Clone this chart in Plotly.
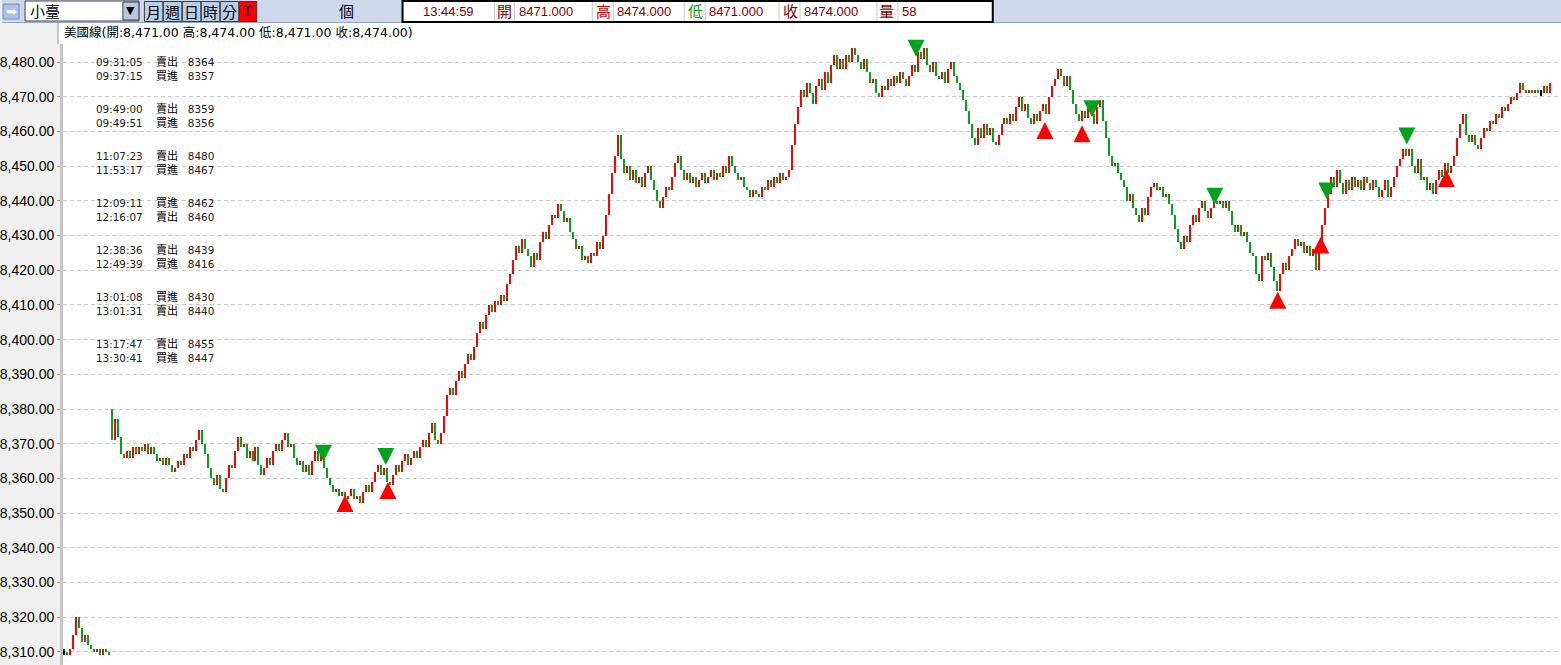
import plotly.graph_objects as go

# ---------------- data ----------------
night_open = 8310
night_close = [8310, 8309, 8311, 8315, 8320, 8317, 8313, 8315, 8312, 8311,
               8310, 8311, 8309, 8311, 8310, 8309]

day_open = 8380
day_close = [
    8371, 8377, 8372, 8367, 8366, 8368, 8366, 8369, 8367, 8369,
    8368, 8370, 8367, 8369, 8367, 8365, 8366, 8364, 8366, 8364,
    8362, 8363, 8365, 8364, 8367, 8366, 8369, 8368, 8371, 8374,
    8370, 8367, 8363, 8360, 8358, 8361, 8357, 8356, 8360, 8364,
    8363, 8368, 8372, 8369, 8370, 8366, 8368, 8365, 8369, 8364,
    8361, 8363, 8366, 8364, 8368, 8370, 8368, 8371, 8373, 8369,
    8370, 8366, 8364, 8365, 8362, 8364, 8361, 8365, 8368, 8365,
    8367, 8363, 8360, 8358, 8356, 8357, 8355, 8356, 8354, 8355,
    8357, 8354, 8355, 8353, 8356, 8358, 8356, 8359, 8362, 8364,
    8361, 8363, 8359, 8358, 8361, 8364, 8362, 8365, 8367, 8364,
    8366, 8368, 8366, 8369, 8371, 8369, 8373, 8376, 8371, 8370,
    8373, 8378, 8384, 8386, 8384, 8388, 8391, 8389, 8393, 8396,
    8394, 8398, 8402, 8405, 8403, 8407, 8410, 8408, 8411, 8410,
    8413, 8411, 8416, 8419, 8423, 8427, 8425, 8429, 8426, 8424,
    8421, 8425, 8423, 8428, 8431, 8429, 8433, 8436, 8435, 8439,
    8437, 8434, 8435, 8431, 8429, 8426, 8427, 8423, 8424, 8422,
    8425, 8424, 8428, 8426, 8430, 8436, 8442, 8448, 8453, 8459,
    8452, 8448, 8450, 8446, 8449, 8445, 8447, 8444, 8448, 8450,
    8446, 8443, 8440, 8438, 8441, 8444, 8443, 8447, 8451, 8453,
    8449, 8446, 8448, 8445, 8447, 8444, 8446, 8448, 8445, 8447,
    8449, 8446, 8448, 8447, 8450, 8448, 8453, 8450, 8448, 8446,
    8447, 8444, 8443, 8441, 8443, 8442, 8441, 8444, 8443, 8446,
    8444, 8447, 8445, 8448, 8446, 8447, 8449, 8456, 8462, 8467,
    8472, 8470, 8474, 8471, 8468, 8473, 8475, 8472, 8477, 8474,
    8479, 8482, 8478, 8481, 8478, 8482, 8480, 8484, 8482, 8480,
    8478, 8481, 8477, 8474, 8475, 8471, 8470, 8473, 8472, 8475,
    8473, 8476, 8474, 8477, 8475, 8473, 8476, 8479, 8477, 8483,
    8481, 8484, 8479, 8477, 8480, 8476, 8475, 8477, 8474, 8478,
    8480, 8476, 8474, 8472, 8469, 8466, 8462, 8458, 8456, 8461,
    8458, 8462, 8459, 8461, 8457, 8456, 8459, 8462, 8464, 8462,
    8465, 8463, 8467, 8470, 8466, 8468, 8464, 8462, 8465, 8463,
    8466, 8468, 8465, 8470, 8473, 8475, 8478, 8476, 8473, 8476,
    8472, 8468, 8465, 8463, 8466, 8464, 8468, 8465, 8462, 8467,
    8469, 8463, 8458, 8453, 8450, 8451, 8448, 8446, 8444, 8440,
    8442, 8438, 8436, 8434, 8438, 8436, 8441, 8444, 8445, 8443,
    8444, 8441, 8442, 8439, 8436, 8432, 8428, 8426, 8430, 8428,
    8433, 8436, 8434, 8438, 8440, 8437, 8435, 8438, 8440, 8439,
    8440, 8438, 8440, 8437, 8433, 8431, 8433, 8430, 8431, 8428,
    8425, 8424, 8419, 8417, 8424, 8423, 8425, 8421, 8417, 8414,
    8419, 8422, 8420, 8424, 8426, 8429, 8427, 8428, 8425, 8427,
    8424, 8426, 8420, 8427, 8433, 8438, 8442, 8447, 8444, 8449,
    8445, 8442, 8446, 8443, 8447, 8444, 8446, 8443, 8447, 8445,
    8443, 8446, 8444, 8441, 8443, 8446, 8441, 8444, 8447, 8450,
    8452, 8455, 8453, 8455, 8450, 8448, 8452, 8446, 8447, 8443,
    8445, 8442, 8446, 8449, 8447, 8451, 8448, 8450, 8453, 8458,
    8462, 8465, 8459, 8457, 8459, 8456, 8455, 8458, 8461, 8460,
    8463, 8462, 8465, 8464, 8467, 8466, 8468, 8470, 8469, 8471,
    8474, 8472, 8471, 8472, 8471, 8472, 8471, 8471, 8473, 8471, 8474,
]

# trade signals: bar position and marker price
sell_bar = [86.6, 107.4, 284.4, 343.1, 384.1, 421.5, 448.2]
sell_price = [8364.8, 8363.9, 8481.5, 8464.1, 8438.9, 8440.4, 8456.2]
buy_bar = [93.8, 108.1, 327.4, 339.8, 405.1, 419.5, 461.4]
buy_price = [8355.2, 8359.0, 8462.7, 8461.8, 8413.8, 8429.7, 8448.9]

# trade log
trade_time = ["09:31:05", "09:37:15", "09:49:00", "09:49:51", "11:07:23", "11:53:17", "12:09:11",
              "12:16:07", "12:38:36", "12:49:39", "13:01:08", "13:01:31", "13:17:47", "13:30:41"]
trade_side = ["賣出", "買進", "賣出", "買進", "賣出", "買進", "買進",
              "賣出", "賣出", "買進", "買進", "賣出", "賣出", "買進"]
trade_price = [8364, 8357, 8359, 8356, 8480, 8467, 8462, 8460, 8439, 8416, 8430, 8440, 8455, 8447]

# last quote
symbol_name = "小臺"
last_time = "13:44:59"
last_open, last_high, last_low, last_close = 8471, 8474, 8471, 8474
last_volume = 58

# ---------------- build bars ----------------
opens, closes = [], []
prev = night_open
for c in night_close:
    opens.append(prev); closes.append(c); prev = c
prev = day_open
for c in day_close:
    opens.append(prev); closes.append(c); prev = c
idx = list(range(len(closes)))
bases, heights, colors = [], [], []
for o, c in zip(opens, closes):
    if c > o:
        bases.append(o); heights.append(c - o); colors.append("#FF0000")
    elif c < o:
        bases.append(c); heights.append(o - c); colors.append("#00A21E")
    else:
        bases.append(c - 0.8); heights.append(1.6); colors.append("#000000")

# ---------------- geometry helpers ----------------
W, H = 1561, 665
ML, MT = 61, 44
PW, PH = W - ML, H - MT


def px(x):
    return (x - ML) / PW


def py(y):
    return (H - y) / PH


fig = go.Figure()
fig.add_trace(go.Bar(x=idx, y=heights, base=bases, width=0.5,
                     marker=dict(color=colors, line=dict(width=0)), hoverinfo="skip"))
fig.add_trace(go.Scatter(x=sell_bar, y=sell_price, mode="markers", cliponaxis=False, hoverinfo="skip",
                         marker=dict(symbol="arrow-down", size=17, color="#00A21E", line=dict(width=0))))
fig.add_trace(go.Scatter(x=buy_bar, y=buy_price, mode="markers", cliponaxis=False, hoverinfo="skip",
                         marker=dict(symbol="arrow-up", size=17, color="#FF0000", line=dict(width=0))))

shapes = []
ann = []


def rect(x0, y0, x1, y1, fill, line=None, lw=1):
    shapes.append(dict(type="rect", xref="paper", yref="paper", layer="below",
                       x0=px(x0), x1=px(x1), y0=py(y1), y1=py(y0), fillcolor=fill,
                       line=dict(color=line or fill, width=lw if line else 0)))


def vline(x, y0, y1, color, lw=1):
    shapes.append(dict(type="line", xref="paper", yref="paper", layer="below",
                       x0=px(x), x1=px(x), y0=py(y1), y1=py(y0), line=dict(color=color, width=lw)))


def text(x, y, s, size=13, color="#000", family="Liberation Sans, Arial", anchor="left", yanchor="middle"):
    ann.append(dict(xref="paper", yref="paper", x=px(x), y=py(y), text=s, showarrow=False,
                    xanchor=anchor, yanchor=yanchor, align="left", borderpad=0,
                    font=dict(size=size, color=color, family=family)))


CJK = "Noto Sans CJK TC, Noto Sans CJK SC"

# toolbar
rect(0, 0, W, 22, "#CDD8EC")
shapes.append(dict(type="line", xref="paper", yref="paper", layer="below",
                   x0=px(0), x1=px(W), y0=py(22.5), y1=py(22.5), line=dict(color="#8FA3C6", width=1)))
# title row
rect(57, 23, W, 44, "#FFFFFF")
vline(56, 23, 44, "#C8C8C8", 2)

# arrow icon
rect(1, 4, 17, 19, "#A9C3E6", "#6E8FC0")
text(9, 11.5, "➡", 13, "#FFFFFF", "DejaVu Sans", "center")
# dropdown
rect(23, 1, 137, 21, "#FFFFFF", "#404040")
text(27, 11, symbol_name, 15, "#000", CJK)
rect(121, 2, 137, 20, "#B6CAE4", "#404040")
text(129, 11, "▼", 11, "#000", "DejaVu Sans", "center")
# period buttons
btn_labels = ["月", "週", "日", "時", "分"]
for k, lab in enumerate(btn_labels):
    x0 = 142.5 + 19 * k
    rect(x0, 1.5, x0 + 18.5, 21.5, "#B9CDE6", "#3A3A3A")
    text(x0 + 9.25, 11.5, lab, 15, "#000", CJK, "center")
rect(237.5, 1.5, 255, 21.5, "#FF0000", "#3A3A3A")
text(246.2, 11.5, "T", 15, "#000", "Liberation Serif", "center")
text(345, 11, "個", 15, "#000", CJK, "center")

# quote panel
rect(401, 1, 992, 22, "#FFFFFF", "#000000", 2)
for xd in [493, 513, 591, 612, 683, 704, 778, 799, 876, 897]:
    vline(xd, 2, 21, "#C8C8C8", 1)
text(447, 11.5, last_time, 13, "#800000", anchor="center")
quote_labels = [("開", 503, "#800000"), ("高", 602, "#E00000"), ("低", 694, "#00A000"),
                ("收", 789, "#800000"), ("量", 886, "#800000")]
for lab, xc, col in quote_labels:
    text(xc, 11, lab, 15, col, CJK, "center")
quote_vals = [f"{last_open:.3f}", f"{last_high:.3f}", f"{last_low:.3f}", f"{last_close:.3f}", f"{last_volume}"]
for xv, s in zip([517, 615, 707, 802, 900], quote_vals):
    text(xv, 11.5, s, 13, "#800000")

# chart title
title = (f"美國線(開:{last_open:,.2f} 高:{last_high:,.2f} "
         f"低:{last_low:,.2f} 收:{last_close:,.2f})")
text(61, 33, title, 12.5, "#000", "DejaVu Sans, " + CJK)

# trade log: one two-line block per pair of trades
NB = "\u00a0"
lines = []
for t, s, p in zip(trade_time, trade_side, trade_price):
    lines.append(f"{t}{NB * 4}<span style='font-family:Noto Sans CJK TC;font-size:11px;color:#000'>{s}</span>{NB * 3}{p}")
for k in range(0, len(lines), 2):
    yc = 61 + 47 * (k // 2) + 6.75
    text(93, yc, "<br>".join(lines[k:k + 2]), 10.4, "#1A1A1A", "DejaVu Sans")

fig.update_layout(
    width=W, height=H,
    margin=dict(l=ML, r=0, t=MT, b=0, pad=0),
    paper_bgcolor="#F0F0F0", plot_bgcolor="#FFFFFF",
    showlegend=False, bargap=0,
    shapes=shapes, annotations=ann,
    xaxis=dict(range=[-1 / 3, 499 + 2 / 3], showticklabels=False, showgrid=False,
               zeroline=False, showline=False, ticks=""),
    yaxis=dict(range=[8306.25, 8485.19], tick0=8310, dtick=10, tickformat=",.2f",
               showgrid=True, gridcolor="#C8C8C8", griddash="4px,3px", gridwidth=1,
               zeroline=False, ticks="outside", ticklen=3, tickcolor="#9A9A9A",
               tickfont=dict(family="Liberation Sans, Arial", size=14, color="#000"),
               showline=True, linecolor="#C4C4C4", linewidth=3),
)

fig.write_html("out.html", config={"displayModeBar": False},
               post_script="document.body.style.margin='0';document.body.style.overflow='hidden';")
